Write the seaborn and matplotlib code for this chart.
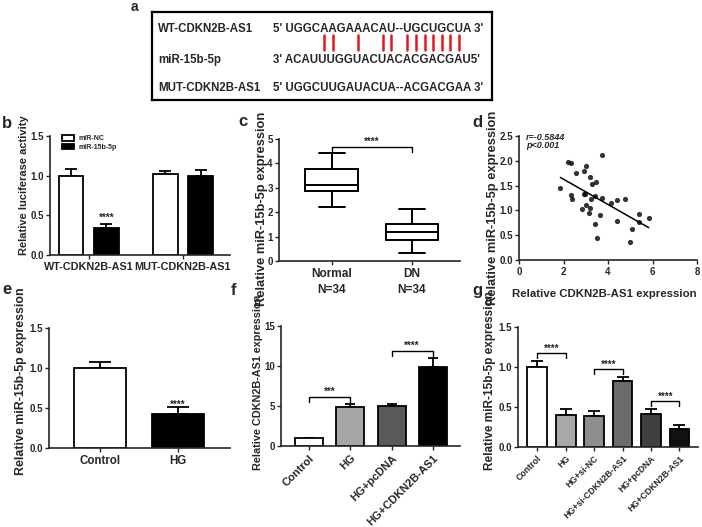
import numpy as np
import pandas as pd
import seaborn as sns
import matplotlib.pyplot as plt

sns.set_style("ticks")
plt.rcParams['font.family'] = ['Liberation Sans', 'DejaVu Sans']
plt.rcParams['axes.linewidth'] = 1.2
plt.rcParams['xtick.major.width'] = 1.0
plt.rcParams['ytick.major.width'] = 1.0
plt.rcParams['xtick.major.size'] = 3
plt.rcParams['ytick.major.size'] = 3

# ---- a: binding sites
seq_labels = ["WT-CDKN2B-AS1", "miR-15b-5p", "MUT-CDKN2B-AS1"]
seq_texts = ["5' UGGCAAGAAACAU--UGCUGCUA 3'",
             "3' ACAUUUGGUACUACACGACGAU5'",
             "5' UGGCUUGAUACUA--ACGACGAA 3'"]
pair_idx = [4, 5, 8, 11, 12, 15, 16, 17, 18, 19, 20, 21]

# ---- b: luciferase
luc_groups = ["WT-CDKN2B-AS1", "MUT-CDKN2B-AS1"]
luc_hue = ["miR-NC", "miR-15b-5p"]
luc_mean = [[1.0, 0.34], [1.02, 1.0]]
luc_err = [[0.08, 0.05], [0.04, 0.07]]

# ---- c: serum levels (min, q1, median, q3, max)
box_groups = ["Normal\nN=34", "DN\nN=34"]
normal_stats = [2.2, 2.85, 3.12, 3.78, 4.42]
dn_stats = [0.33, 0.88, 1.2, 1.53, 2.13]

# ---- d: correlation
cdkn_x = [1.86, 2.20, 2.32, 2.32, 2.40, 2.58, 2.91, 3.03, 2.90, 2.97, 2.85,
          3.03, 3.21, 3.15, 3.18, 3.30, 3.48, 3.25, 3.40, 3.73, 3.73, 3.63,
          3.43, 3.51, 4.15, 4.42, 4.78, 4.42, 5.00, 5.08, 5.39, 5.38, 5.83]
mir_y = [1.46, 1.97, 1.96, 1.31, 1.22, 1.75, 1.79, 1.90, 1.33, 1.34, 1.02,
         1.11, 1.04, 0.94, 1.68, 1.53, 1.58, 1.23, 1.30, 2.12, 1.26, 0.91,
         0.72, 0.44, 1.14, 1.20, 1.23, 0.79, 0.37, 0.63, 0.92, 0.76, 0.84]

# ---- e
e_groups = ["Control", "HG"]
e_mean = [1.0, 0.43]
e_err = [0.07, 0.08]
e_colors = ["white", "black"]

# ---- f
f_groups = ["Control", "HG", "HG+pcDNA", "HG+CDKN2B-AS1"]
f_mean = [1.0, 4.9, 4.95, 9.9]
f_err = [0.05, 0.3, 0.25, 1.05]
f_colors = ["white", "#a6a6a6", "#595959", "black"]

# ---- g
g_groups = ["Control", "HG", "HG+si-NC", "HG+si-CDKN2B-AS1", "HG+pcDNA", "HG+CDKN2B-AS1"]
g_mean = [1.0, 0.40, 0.39, 0.83, 0.41, 0.23]
g_err = [0.07, 0.07, 0.06, 0.05, 0.06, 0.05]
g_colors = ["white", "#a8a8a8", "#8e8e8e", "#6b6b6b", "#3f3f3f", "#111111"]

W, H = 702, 527
fig = plt.figure(figsize=(W / 100, H / 100), dpi=100)


def px_axes(l, t, r, b):
    return fig.add_axes([l / W, 1 - b / H, (r - l) / W, (b - t) / H])


def style(ax, ylabel, ylab_size, ylab_x, ylab_y, xsize, tsize=7):
    sns.despine(ax=ax)
    ax.set_xlabel("")
    ax.set_ylabel(ylabel, fontsize=ylab_size, fontweight="bold")
    ax.yaxis.set_label_coords(ylab_x, ylab_y)
    ax.tick_params(axis="y", labelsize=tsize, pad=1.5)
    ax.tick_params(axis="x", labelsize=xsize, pad=2)
    for t in ax.get_xticklabels() + ax.get_yticklabels():
        t.set_fontweight("bold")


def err_bars(ax, means, errs, capsize):
    pats = [p for c in ax.containers for p in c]
    pats = sorted(pats, key=lambda p: p.get_x())
    xs = [p.get_x() + p.get_width() / 2 for p in pats]
    ax.errorbar(xs, np.ravel(means), yerr=[np.zeros(len(xs)), np.ravel(errs)],
                fmt="none", ecolor="black", elinewidth=1.3, capsize=capsize,
                capthick=1.3, zorder=1)
    return xs


def bracket(ax, x1, x2, top, leg, text, fs=7):
    ax.plot([x1, x1, x2, x2], [leg, top, top, leg], color="black", lw=1.0, clip_on=False)
    ax.text((x1 + x2) / 2, top, text, ha="center", va="bottom", fontsize=fs,
            fontweight="bold", clip_on=False)


def simple_bars(ax, names, means, errs, colors, width, capsize):
    df = pd.DataFrame({"group": names, "value": means})
    sns.barplot(data=df, x="group", y="value", hue="group", palette=colors,
                width=width, edgecolor="black", linewidth=1.3, errorbar=None,
                legend=False, ax=ax, zorder=2)
    return err_bars(ax, means, errs, capsize)


# ---------------- a
ax_a = px_axes(152, 12, 492, 100)
ax_a.set_xlim(152, 492)
ax_a.set_ylim(100, 12)
ax_a.set_xticks([])
ax_a.set_yticks([])
for s in ax_a.spines.values():
    s.set_visible(True)
    s.set_linewidth(1.6)
    s.set_color("black")
row_y = [29, 60, 88]
fa = dict(fontsize=8.3, fontweight="bold", va="center")
for lab, seq, y in zip(seq_labels, seq_texts, row_y):
    ax_a.text(158, y, lab, ha="left", **fa)
    ax_a.text(273, y, seq, ha="left", **fa)
renderer = fig.canvas.get_renderer()
inv = ax_a.transData.inverted()
for i in pair_idx:
    k = 3 + i
    t1 = ax_a.text(273, 29, seq_texts[0][:k], ha="left", **fa)
    t2 = ax_a.text(273, 29, seq_texts[0][:k + 1], ha="left", **fa)
    xa = t1.get_window_extent(renderer).x1
    xb = t2.get_window_extent(renderer).x1
    t1.remove()
    t2.remove()
    xc = inv.transform(((xa + xb) / 2, 0))[0]
    ax_a.plot([xc, xc], [35, 50], color="#e8141b", lw=1.8)

# ---------------- b
ax_b = px_axes(50, 136, 230, 255)
luc_df = pd.DataFrame({"construct": np.repeat(luc_groups, 2),
                       "mimic": luc_hue * 2,
                       "value": np.ravel(luc_mean)})
sns.barplot(data=luc_df, x="construct", y="value", hue="mimic",
            palette=["white", "black"], width=0.75, gap=0.3, edgecolor="black",
            linewidth=1.3, errorbar=None, ax=ax_b, zorder=2)
xb_pos = err_bars(ax_b, luc_mean, luc_err, 4.5)
ax_b.text(xb_pos[1], luc_mean[0][1] + luc_err[0][1] + 0.01, "****", ha="center",
          va="bottom", fontsize=7, fontweight="bold")
ax_b.set_ylim(0, 1.5)
ax_b.set_xlim(-0.41, 1.5)
ax_b.set_yticks([0, 0.5, 1.0, 1.5])
ax_b.legend(prop={"weight": "bold", "size": 5}, frameon=False, loc="upper left",
            bbox_to_anchor=(0.05, 1.03), borderaxespad=0, handlelength=1.8,
            handleheight=0.9, labelspacing=0.15, handletextpad=0.6)
style(ax_b, "Relative luciferase activity", 8, -0.117, 0.59, 7.8)

# ---------------- c
ax_c = px_axes(279, 139, 460, 261)
box_df = pd.DataFrame({"group": np.repeat(box_groups, 5),
                       "value": normal_stats + dn_stats})
sns.boxplot(data=box_df, x="group", y="value", whis=(0, 100), width=0.66,
            color="white", linecolor="black", linewidth=1.4, ax=ax_c)
ax_c.set_ylim(0, 5)
ax_c.set_xlim(-0.66, 1.6)
bracket(ax_c, 0, 1, 4.68, 4.48, "****")
style(ax_c, "Relative miR-15b-5p expression", 9.3, -0.06, 0.43, 8.6)
for t in ax_c.get_xticklabels():
    t.set_linespacing(1.5)

# ---------------- d
ax_d = px_axes(519, 136, 697, 260)
sns.regplot(x=cdkn_x, y=mir_y, ci=None, ax=ax_d,
            scatter_kws=dict(s=14, color="black", linewidths=0),
            line_kws=dict(color="black", lw=1.1))
ax_d.set_xlim(0, 8)
ax_d.set_ylim(0, 2.5)
ax_d.set_xticks([0, 2, 4, 6, 8])
ax_d.set_yticks([0, 0.5, 1.0, 1.5, 2.0, 2.5])
ax_d.set_yticklabels(["0.0", "0.5", "1.0", "1.5", "2.0", "2.5"])
ax_d.text(0.04, 0.99, "r=-0.5844", transform=ax_d.transAxes, fontsize=6.5,
          fontstyle="italic", fontweight="bold", va="center")
ax_d.text(0.04, 0.92, "p<0.001", transform=ax_d.transAxes, fontsize=6.5,
          fontstyle="italic", fontweight="bold", va="center")
style(ax_d, "Relative miR-15b-5p expression", 9.3, -0.115, 0.42, 7)
ax_d.set_xlabel("Relative CDKN2B-AS1 expression", fontsize=8.2, fontweight="bold")
ax_d.xaxis.set_label_coords(0.48, -0.23)

# ---------------- e
ax_e = px_axes(49, 328, 230, 448)
xe = simple_bars(ax_e, e_groups, e_mean, e_err, e_colors, 0.667, 8)
ax_e.text(xe[1], e_mean[1] + e_err[1] - 0.03, "****", ha="center", va="bottom",
          fontsize=7, fontweight="bold")
ax_e.set_ylim(0, 1.5)
ax_e.set_xlim(-0.65, 1.67)
ax_e.set_yticks([0, 0.5, 1.0, 1.5])
style(ax_e, "Relative miR-15b-5p expression", 8.9, -0.12, 0.56, 8.3)

# ---------------- f
ax_f = px_axes(281, 326, 460, 446)
xf = simple_bars(ax_f, f_groups, f_mean, f_err, f_colors, 0.68, 3.3)
ax_f.set_ylim(0, 15)
ax_f.set_xlim(-0.68, 3.66)
ax_f.set_yticks([0, 5, 10, 15])
bracket(ax_f, xf[0], xf[1], 6.1, 5.5, "***")
bracket(ax_f, xf[2], xf[3], 11.9, 11.25, "****")
style(ax_f, "Relative CDKN2B-AS1 expression", 7.8, -0.1, 0.53, 8)
for t in ax_f.get_xticklabels():
    t.set_rotation(45)
    t.set_ha("right")
    t.set_rotation_mode("anchor")

# ---------------- g
ax_g = px_axes(518, 327, 698, 447)
xg = simple_bars(ax_g, g_groups, g_mean, g_err, g_colors, 0.7, 4)
ax_g.set_ylim(0, 1.5)
ax_g.set_xlim(-0.67, 5.65)
ax_g.set_yticks([0, 0.5, 1.0, 1.5])
bracket(ax_g, xg[0], xg[1], 1.17, 1.11, "****")
bracket(ax_g, xg[2], xg[3], 0.97, 0.91, "****")
bracket(ax_g, xg[4], xg[5], 0.57, 0.51, "****")
style(ax_g, "Relative miR-15b-5p expression", 8.5, -0.125, 0.55, 6.3)
for t in ax_g.get_xticklabels():
    t.set_rotation(45)
    t.set_ha("right")
    t.set_rotation_mode("anchor")

# panel letters
for letter, x, y, fs in [("a", 131, 11, 10), ("b", 2, 128, 12), ("c", 238, 126, 12),
                         ("d", 472, 127, 12), ("e", 2, 294, 12), ("f", 231, 295, 12),
                         ("g", 472, 295, 12)]:
    fig.text(x / W, 1 - y / H, letter, fontsize=fs, fontweight="bold",
             ha="left", va="baseline")

fig.savefig("out.png", dpi=100)
